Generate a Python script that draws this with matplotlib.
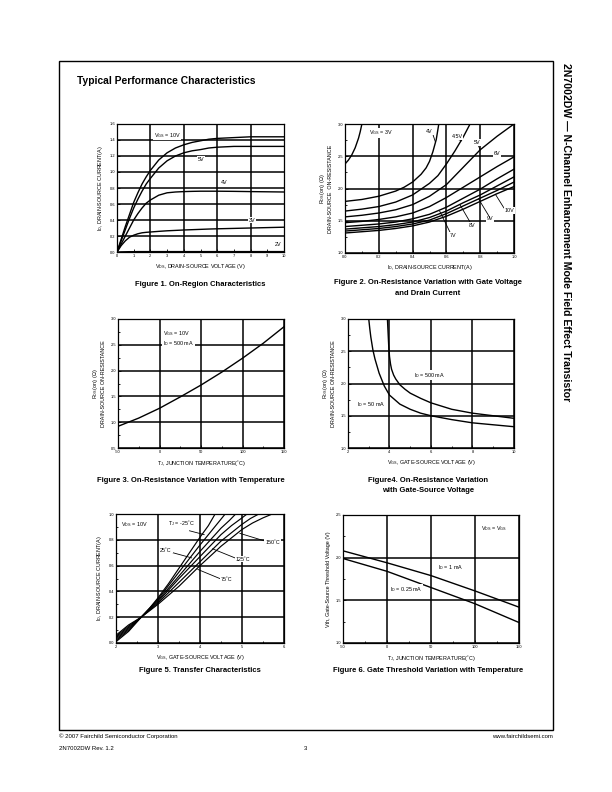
import matplotlib
matplotlib.use("Agg")
import matplotlib.pyplot as plt
import numpy as np
from matplotlib.patches import Rectangle
from matplotlib.ticker import MultipleLocator, FormatStrFormatter

plt.rcParams['font.family'] = ['Liberation Sans', 'DejaVu Sans']
plt.rcParams['mathtext.fontset'] = 'custom'
plt.rcParams['mathtext.rm'] = 'Liberation Sans'
plt.rcParams['mathtext.it'] = 'Liberation Sans:italic'
plt.rcParams['mathtext.bf'] = 'Liberation Sans:bold'

# ---------------- data ----------------
# Figure 1: On-region characteristics (Id vs Vds)
f1_vds = [0, 0.25, 0.5, 0.75, 1, 1.25, 1.5, 1.75, 2, 2.5, 3, 3.5, 4, 4.5, 5, 5.5, 6, 7, 8, 10]
f1_id_10v = [0, 0.16, 0.32, 0.47, 0.62, 0.74, 0.85, 0.94, 1.02, 1.15, 1.24, 1.30, 1.34, 1.37,
             1.39, 1.41, 1.42, 1.43, 1.44, 1.44]
f1_id_5v = [0, 0.14, 0.28, 0.42, 0.55, 0.66, 0.76, 0.85, 0.92, 1.05, 1.14, 1.20, 1.24, 1.265,
            1.28, 1.30, 1.31, 1.32, 1.32, 1.32]
f1_id_4v = [0, 0.10, 0.20, 0.30, 0.40, 0.48, 0.55, 0.61, 0.65, 0.71, 0.74, 0.75, 0.755, 0.758,
            0.76, 0.76, 0.76, 0.758, 0.755, 0.75]
f1_id_3v = [0, 0.08, 0.14, 0.185, 0.21, 0.228, 0.24, 0.246, 0.25, 0.258, 0.265, 0.27, 0.275,
            0.279, 0.283, 0.287, 0.29, 0.295, 0.30, 0.31]
f1_id_2v = [0, 0.002, 0.003, 0.004, 0.004, 0.005, 0.005, 0.005, 0.005, 0.005, 0.005, 0.005,
            0.005, 0.005, 0.005, 0.005, 0.005, 0.005, 0.005, 0.005]

# Figure 2: On-resistance vs drain current for several Vgs
f2_3v_id = [0.0, 0.02, 0.04, 0.06, 0.08, 0.09, 0.1]
f2_3v_r = [2.38, 2.44, 2.52, 2.63, 2.78, 2.88, 3.0]
f2_4v_id = [0.0, 0.1, 0.2, 0.3, 0.35, 0.4, 0.45, 0.48, 0.5, 0.52, 0.54, 0.555]
f2_4v_r = [1.80, 1.83, 1.88, 1.96, 2.02, 2.10, 2.22, 2.32, 2.42, 2.57, 2.76, 3.0]
f2_45v_id = [0.0, 0.1, 0.2, 0.3, 0.4, 0.5, 0.55, 0.6, 0.65, 0.7, 0.74]
f2_45v_r = [1.65, 1.68, 1.72, 1.79, 1.90, 2.08, 2.20, 2.38, 2.58, 2.80, 3.0]
f2_id = [0.0, 0.1, 0.2, 0.3, 0.4, 0.5, 0.6, 0.7, 0.8, 0.9, 1.0]
f2_5v_r = [1.56, 1.585, 1.62, 1.67, 1.75, 1.88, 2.06, 2.33, 2.60, 2.81, 3.0]
f2_6v_r = [1.47, 1.49, 1.52, 1.56, 1.62, 1.72, 1.86, 2.02, 2.18, 2.34, 2.49]
f2_7v_r = [1.41, 1.43, 1.45, 1.48, 1.53, 1.60, 1.71, 1.85, 1.99, 2.15, 2.30]
f2_8v_r = [1.37, 1.39, 1.41, 1.44, 1.48, 1.55, 1.65, 1.78, 1.90, 2.04, 2.18]
f2_9v_r = [1.34, 1.36, 1.38, 1.41, 1.45, 1.51, 1.61, 1.73, 1.85, 1.97, 2.10]
f2_10v_r = [1.31, 1.33, 1.35, 1.38, 1.42, 1.48, 1.57, 1.68, 1.80, 1.92, 2.03]

# Figure 3: On-resistance vs temperature
f3_tj = [-50, -25, 0, 25, 50, 75, 100, 125, 150]
f3_r = [0.92, 1.08, 1.27, 1.49, 1.72, 1.97, 2.24, 2.53, 2.85]

# Figure 4: On-resistance vs gate-source voltage
f4_50ma_vgs = [3.0, 3.05, 3.1, 3.2, 3.3, 3.5, 3.75, 4.0, 4.5, 5.0, 5.5, 6.0, 7.0, 8.0, 9.0, 10.0]
f4_50ma_r = [3.0, 2.85, 2.72, 2.52, 2.38, 2.16, 1.96, 1.82, 1.68, 1.60, 1.54, 1.50, 1.44, 1.39,
             1.36, 1.33]
f4_500ma_vgs = [3.9, 3.93, 3.96, 4.0, 4.05, 4.1, 4.2, 4.3, 4.5, 4.75, 5.0, 5.5, 6.0, 7.0, 8.0,
                9.0, 10.0]
f4_500ma_r = [3.0, 2.8, 2.6, 2.42, 2.30, 2.22, 2.13, 2.07, 1.98, 1.91, 1.85, 1.77, 1.70, 1.60,
              1.54, 1.50, 1.46]

# Figure 5: Transfer characteristics (Id vs Vgs) at several Tj
f5_m25_vgs = [2.0, 2.3, 2.6, 2.8, 3.0, 3.25, 3.5, 3.75, 4.0, 4.2, 4.36]
f5_m25_id = [0.01, 0.09, 0.2, 0.27, 0.35, 0.46, 0.58, 0.70, 0.82, 0.91, 1.0]
f5_25_vgs = [2.0, 2.3, 2.6, 2.8, 3.0, 3.25, 3.5, 3.75, 4.0, 4.25, 4.5, 4.6]
f5_25_id = [0.02, 0.1, 0.2, 0.27, 0.34, 0.445, 0.55, 0.655, 0.76, 0.86, 0.96, 1.0]
f5_75_vgs = [2.0, 2.3, 2.6, 2.8, 3.0, 3.25, 3.5, 3.75, 4.0, 4.25, 4.5, 4.7, 4.85]
f5_75_id = [0.03, 0.11, 0.2, 0.265, 0.33, 0.425, 0.52, 0.615, 0.71, 0.80, 0.89, 0.95, 1.0]
f5_100_vgs = [2.0, 2.3, 2.6, 2.8, 3.0, 3.25, 3.5, 3.75, 4.0, 4.5, 4.75, 5.0, 5.12]
f5_100_id = [0.04, 0.12, 0.2, 0.26, 0.32, 0.41, 0.50, 0.585, 0.67, 0.84, 0.91, 0.97, 1.0]
f5_125_vgs = [2.0, 2.3, 2.6, 2.8, 3.0, 3.25, 3.5, 3.75, 4.0, 4.5, 5.0, 5.2, 5.4]
f5_125_id = [0.05, 0.13, 0.2, 0.255, 0.31, 0.39, 0.47, 0.55, 0.63, 0.79, 0.92, 0.965, 1.0]
f5_150_vgs = [2.0, 2.3, 2.6, 2.8, 3.0, 3.25, 3.5, 3.75, 4.0, 4.5, 5.0, 5.25, 5.5, 5.72]
f5_150_id = [0.06, 0.14, 0.2, 0.25, 0.30, 0.37, 0.44, 0.52, 0.60, 0.75, 0.88, 0.93, 0.97, 1.0]

# Figure 6: Gate threshold vs temperature
f6_tj = [-50, 0, 50, 100, 150]
f6_vth_1ma = [2.08, 1.94, 1.79, 1.61, 1.42]
f6_vth_025ma = [1.99, 1.84, 1.65, 1.46, 1.24]

# ---------------- layout helpers ----------------
W, H = 612, 792
fig = plt.figure(figsize=(W / 100, H / 100), dpi=100)

def px_axes(l, t, r, b):
    return fig.add_axes([l / W, 1 - b / H, (r - l) / W, (b - t) / H])

def fx(x):
    return x / W

def fy(y):
    return 1 - y / H

TICK_FS = 2.9
LAB_FS = 3.9
ANN_FS = 3.9
CAP_FS = 5.5
LW = 1.0
GRID_LW = 1.1

def style_axes(ax, xlim, ylim, xmaj, xmin, ymaj, ymin, xfmt, yfmt, grid=True):
    ax.set_xlim(*xlim)
    ax.set_ylim(*ylim)
    ax.xaxis.set_major_locator(MultipleLocator(xmaj))
    ax.yaxis.set_major_locator(MultipleLocator(ymaj))
    if xmin:
        ax.xaxis.set_minor_locator(MultipleLocator(xmin))
    if ymin:
        ax.yaxis.set_minor_locator(MultipleLocator(ymin))
    ax.xaxis.set_major_formatter(FormatStrFormatter(xfmt))
    ax.yaxis.set_major_formatter(FormatStrFormatter(yfmt))
    ax.tick_params(which='both', direction='in', labelsize=TICK_FS, width=0.6, pad=1.5)
    ax.tick_params(which='major', length=2.2)
    ax.tick_params(which='minor', length=1.4)
    for s in ax.spines.values():
        s.set_linewidth(0.9)
    if grid:
        ax.grid(True, which='major', color='black', linewidth=GRID_LW)
    ax.set_axisbelow(True)

def label(ax, x, y, s, ha='left'):
    ax.text(x, y, s, fontsize=ANN_FS, ha=ha, va='center',
            bbox=dict(facecolor='white', edgecolor='none', pad=0.6), zorder=5)

def leader(ax, x0, y0, x1, y1):
    ax.plot([x0, x1], [y0, y1], color='black', lw=0.6, zorder=4)

# ---------------- page frame and texts ----------------
fig.patches.append(Rectangle((fx(59), fy(730)), fx(553) - fx(59), fy(61) - fy(730),
                             transform=fig.transFigure, fill=False, edgecolor='black', lw=1.0))
fig.text(fx(77), fy(81), "Typical Performance Characteristics", fontsize=7.4,
         fontweight='bold', ha='left', va='center')
fig.text(fx(566), fy(63), "2N7002DW \u2014 N-Channel Enhancement Mode Field Effect Transistor",
         fontsize=7.6, fontweight='bold', rotation=-90, ha='center', va='top')
fig.text(fx(59), fy(736), "\u00a9 2007 Fairchild Semiconductor Corporation", fontsize=4.3,
         ha='left', va='center')
fig.text(fx(59), fy(748), "2N7002DW Rev. 1.2", fontsize=4.3, ha='left', va='center')
fig.text(fx(305), fy(748), "3", fontsize=4.3, ha='center', va='center')
fig.text(fx(553), fy(736), "www.fairchildsemi.com", fontsize=4.3, ha='right', va='center')

# ---------------- Figure 1 ----------------
ax1 = px_axes(117, 124, 284, 252)
style_axes(ax1, (0, 10), (0, 1.6), 1, None, 0.2, None, '%d', '%.1f', grid=False)
for gx in [2, 4, 6, 8]:
    ax1.axvline(gx, color='black', lw=GRID_LW, zorder=0.5)
for gy in [0.2, 0.4, 0.6, 0.8, 1.0, 1.2, 1.4]:
    ax1.axhline(gy, color='black', lw=GRID_LW, zorder=0.5)
for ys in [f1_id_10v, f1_id_5v, f1_id_4v, f1_id_3v, f1_id_2v]:
    ax1.plot(f1_vds, ys, color='black', lw=LW, zorder=3)
label(ax1, 2.2, 1.46, r"V$_{\mathrm{GS}}$ = 10V")
label(ax1, 4.85, 1.16, "5V")
label(ax1, 6.2, 0.87, "4V")
label(ax1, 7.9, 0.40, "3V")
label(ax1, 9.45, 0.10, "2V")
ax1.set_xlabel(r"V$_{\mathrm{DS}}$, DRAIN-SOURCE VOLTAGE (V)", fontsize=LAB_FS, labelpad=3)
ax1.set_ylabel(r"I$_{\mathrm{D}}$, DRAIN-SOURCE CURRENT(A)", fontsize=LAB_FS, labelpad=3)
fig.text(fx(200), fy(284), "Figure 1. On-Region Characteristics", fontsize=CAP_FS,
         fontweight='bold', ha='center', va='center')

# ---------------- Figure 2 ----------------
ax2 = px_axes(345, 124, 514, 253)
style_axes(ax2, (0, 1.0), (1.0, 3.0), 0.2, 0.1, 0.5, 0.25, '%.1f', '%.1f')
ax2.plot(f2_3v_id, f2_3v_r, color='black', lw=LW, zorder=3)
ax2.plot(f2_4v_id, f2_4v_r, color='black', lw=LW, zorder=3)
ax2.plot(f2_45v_id, f2_45v_r, color='black', lw=LW, zorder=3)
for ys in [f2_5v_r, f2_6v_r, f2_7v_r, f2_8v_r, f2_9v_r, f2_10v_r]:
    ax2.plot(f2_id, ys, color='black', lw=LW, zorder=3)
label(ax2, 0.14, 2.86, r"V$_{\mathrm{GS}}$ = 3V")
label(ax2, 0.48, 2.88, "4V")
leader(ax2, 0.52, 2.84, 0.535, 2.72)
label(ax2, 0.63, 2.81, "4.5V")
leader(ax2, 0.67, 2.76, 0.69, 2.74)
label(ax2, 0.76, 2.71, "5V")
leader(ax2, 0.79, 2.66, 0.80, 2.60)
label(ax2, 0.88, 2.54, "6V")
label(ax2, 0.945, 1.66, "10V")
leader(ax2, 0.94, 1.70, 0.89, 1.91)
label(ax2, 0.84, 1.53, "9V")
leader(ax2, 0.85, 1.58, 0.79, 1.84)
label(ax2, 0.73, 1.43, "8V")
leader(ax2, 0.74, 1.48, 0.68, 1.75)
label(ax2, 0.62, 1.27, "7V")
leader(ax2, 0.62, 1.33, 0.56, 1.65)
ax2.set_xlabel(r"I$_{\mathrm{D}}$, DRAIN-SOURCE CURRENT(A)", fontsize=LAB_FS, labelpad=3)
ax2.set_ylabel("R$_{\\mathrm{DS}}$(on), (\u03a9)\nDRAIN-SOURCE  ON-RESISTANCE",
               fontsize=LAB_FS, labelpad=3)
fig.text(fx(428), fy(283), "Figure 2. On-Resistance Variation with Gate Voltage",
         fontsize=CAP_FS, fontweight='bold', ha='center', va='center')
fig.text(fx(428), fy(293), "and Drain Current", fontsize=CAP_FS, fontweight='bold',
         ha='center', va='center')

# ---------------- Figure 3 ----------------
ax3 = px_axes(118, 319, 284, 448)
style_axes(ax3, (-50, 150), (0.5, 3.0), 50, 25, 0.5, 0.25, '%d', '%.1f')
ax3.plot(f3_tj, f3_r, color='black', lw=LW, zorder=3)
ax3.text(4, 2.62, "V$_{\\mathrm{GS}}$ = 10V\nI$_{\\mathrm{D}}$ = 500 mA", fontsize=ANN_FS,
         ha='left', va='center', linespacing=1.1,
         bbox=dict(facecolor='white', edgecolor='none', pad=0.6), zorder=5)
ax3.set_xlabel("T$_{\\mathrm{J}}$, JUNCTION TEMPERATURE(\u02daC)", fontsize=LAB_FS, labelpad=3)
ax3.set_ylabel("R$_{\\mathrm{DS}}$(on), (\u03a9)\nDRAIN-SOURCE ON-RESISTANCE",
               fontsize=LAB_FS, labelpad=3)
fig.text(fx(191), fy(480), "Figure 3. On-Resistance Variation with Temperature",
         fontsize=CAP_FS, fontweight='bold', ha='center', va='center')

# ---------------- Figure 4 ----------------
ax4 = px_axes(348, 319, 514, 448)
style_axes(ax4, (2, 10), (1.0, 3.0), 2, 1, 0.5, 0.25, '%d', '%.1f')
ax4.plot(f4_50ma_vgs, f4_50ma_r, color='black', lw=LW, zorder=3)
ax4.plot(f4_500ma_vgs, f4_500ma_r, color='black', lw=LW, zorder=3)
label(ax4, 5.2, 2.13, "I$_{\\mathrm{D}}$ = 500 mA")
label(ax4, 2.45, 1.67, "I$_{\\mathrm{D}}$ = 50 mA")
ax4.set_xlabel("V$_{\\mathrm{GS}}$, GATE-SOURCE VOLTAGE (V)", fontsize=LAB_FS, labelpad=3)
ax4.set_ylabel("R$_{\\mathrm{DS}}$(on), (\u03a9)\nDRAIN-SOURCE ON-RESISTANCE",
               fontsize=LAB_FS, labelpad=3)
fig.text(fx(428), fy(480), "Figure4. On-Resistance Variation", fontsize=CAP_FS,
         fontweight='bold', ha='center', va='center')
fig.text(fx(428), fy(490), "with Gate-Source Voltage", fontsize=CAP_FS,
         fontweight='bold', ha='center', va='center')

# ---------------- Figure 5 ----------------
ax5 = px_axes(116, 514, 284, 643)
style_axes(ax5, (2, 6), (0.0, 1.0), 1, 0.5, 0.2, 0.1, '%d', '%.1f')
for xs, ys in [(f5_m25_vgs, f5_m25_id), (f5_25_vgs, f5_25_id), (f5_75_vgs, f5_75_id),
               (f5_100_vgs, f5_100_id), (f5_125_vgs, f5_125_id), (f5_150_vgs, f5_150_id)]:
    ax5.plot(xs, ys, color='black', lw=0.85, zorder=3)
label(ax5, 2.12, 0.92, "V$_{\\mathrm{DS}}$ = 10V")
label(ax5, 3.25, 0.93, "T$_{\\mathrm{J}}$ = -25\u02daC")
leader(ax5, 3.75, 0.87, 4.1, 0.84)
label(ax5, 5.55, 0.78, "150\u02daC")
leader(ax5, 4.95, 0.85, 5.55, 0.79)
label(ax5, 4.85, 0.65, "125\u02daC")
leader(ax5, 4.3, 0.73, 4.83, 0.66)
label(ax5, 3.05, 0.72, "25\u02daC")
leader(ax5, 3.35, 0.70, 3.8, 0.66)
label(ax5, 4.5, 0.49, "75\u02daC")
leader(ax5, 3.95, 0.57, 4.47, 0.50)
ax5.set_xlabel("V$_{\\mathrm{GS}}$, GATE-SOURCE VOLTAGE (V)", fontsize=LAB_FS, labelpad=3)
ax5.set_ylabel("I$_{\\mathrm{D}}$, DRAIN-SOURCE CURRENT(A)", fontsize=LAB_FS, labelpad=3)
fig.text(fx(200), fy(670), "Figure 5. Transfer Characteristics", fontsize=CAP_FS,
         fontweight='bold', ha='center', va='center')

# ---------------- Figure 6 ----------------
ax6 = px_axes(343, 515, 519, 643)
style_axes(ax6, (-50, 150), (1.0, 2.5), 50, 25, 0.5, 0.25, '%d', '%.1f')
ax6.plot(f6_tj, f6_vth_1ma, color='black', lw=LW, zorder=3)
ax6.plot(f6_tj, f6_vth_025ma, color='black', lw=LW, zorder=3)
label(ax6, 107, 2.34, "V$_{\\mathrm{DS}}$ = V$_{\\mathrm{GS}}$")
label(ax6, 58, 1.88, "I$_{\\mathrm{D}}$ = 1 mA")
label(ax6, 3, 1.63, "I$_{\\mathrm{D}}$ = 0.25 mA")
ax6.set_xlabel("T$_{\\mathrm{J}}$, JUNCTION TEMPERATURE(\u02daC)", fontsize=LAB_FS, labelpad=3)
ax6.set_ylabel("Vth, Gate-Source Threshold Voltage (V)", fontsize=LAB_FS, labelpad=3)
fig.text(fx(428), fy(670), "Figure 6. Gate Threshold Variation with Temperature",
         fontsize=CAP_FS, fontweight='bold', ha='center', va='center')

fig.savefig("out.png", dpi=100, facecolor='white')
